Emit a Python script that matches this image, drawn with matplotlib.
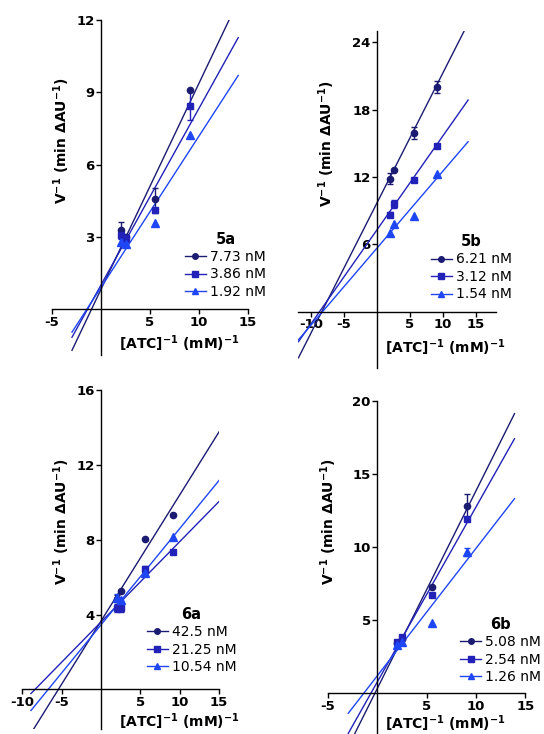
import numpy as np
import matplotlib
matplotlib.use("Agg")
import matplotlib.pyplot as plt
from matplotlib.lines import Line2D

plt.rcParams['font.family'] = ['DejaVu Sans']
plt.rcParams['axes.unicode_minus'] = False
plt.rcParams['mathtext.fontset'] = 'dejavusans'

# ---------------- data ----------------
x_atc = [2.0, 2.5, 5.56, 9.09]

# panel 5a
labels_5a = ['7.73 nM', '3.86 nM', '1.92 nM']
y_5a = [[3.28, 3.0, 4.59, 9.1], [3.1, 2.95, 4.1, 8.45], [2.8, 2.7, 3.6, 7.25]]
e_5a = [[0.33, 0.0, 0.45, 0.0], [0.2, 0.15, 0.1, 0.6], [0.0, 0.0, 0.0, 0.0]]
slope_5a = [0.855, 0.733, 0.628]
icpt_5a = [0.83, 1.01, 0.91]
fitx_5a = [-2.96, 14.0]

# panel 5b
labels_5b = ['6.21 nM', '3.12 nM', '1.54 nM']
y_5b = [[11.85, 12.6, 15.95, 20.05], [8.65, 9.6, 11.75, 14.8], [7.0, 7.8, 8.55, 12.25]]
e_5b = [[0.5, 0.0, 0.55, 0.55], [0.2, 0.35, 0.2, 0.15], [0.0, 0.0, 0.0, 0.0]]
slope_5b = [1.16, 0.838, 0.687]
icpt_5b = [9.7, 7.3, 5.67]
fitx_5b = [-11.9, 13.8]

# panel 6a
labels_6a = ['42.5 nM', '21.25 nM', '10.54 nM']
y_6a = [[4.85, 5.25, 8.05, 9.3], [4.35, 4.35, 6.45, 7.35], [4.9, 4.8, 6.2, 8.15]]
e_6a = [[0.2, 0.0, 0.0, 0.0], [0.2, 0.2, 0.15, 0.1], [0.2, 0.1, 0.0, 0.0]]
slope_6a = [0.675, 0.43, 0.515]
icpt_6a = [3.65, 3.6, 3.45]
fitx_6a = [-8.9, 15.0]

# panel 6b
labels_6b = ['5.08 nM', '2.54 nM', '1.26 nM']
y_6b = [[3.4, 3.7, 7.25, 12.85], [3.5, 3.84, 6.7, 11.95], [3.3, 3.5, 4.8, 9.67]]
e_6b = [[0.15, 0.0, 0.0, 0.8], [0.15, 0.1, 0.0, 0.15], [0.0, 0.0, 0.0, 0.25]]
slope_6b = [1.356, 1.2, 0.874]
icpt_6b = [0.31, 0.76, 1.18]
fitx_6b = [-2.94, 13.9]

colors = ['#1b1b72', '#2222b8', '#1f46f5']
markers = ['o', 's', '^']
msizes = [4.5, 5.0, 5.5]

W, H = 544, 734
fig = plt.figure(figsize=(W / 100, H / 100), dpi=100)


def make_axes(x0, sx, xlim, y0, sy, ylim):
    left = x0 + xlim[0] * sx
    right = x0 + xlim[1] * sx
    top = y0 - ylim[1] * sy
    bottom = y0 - ylim[0] * sy
    ax = fig.add_axes([left / W, 1 - bottom / H, (right - left) / W, (bottom - top) / H])
    ax.set_xlim(*xlim)
    ax.set_ylim(*ylim)
    return ax


def panel(ax, title, labels, ys, es, slopes, icpts, fitx, xticks, yticks,
          xspan, yspan, leg_xy, ylab_xy, xlab_xy):
    ax.patch.set_visible(False)
    for sp in ['top', 'right']:
        ax.spines[sp].set_visible(False)
    ax.spines['left'].set_position(('data', 0))
    ax.spines['bottom'].set_position(('data', 0))
    ax.spines['left'].set_bounds(*yspan)
    ax.spines['bottom'].set_bounds(*xspan)
    for sp in ['left', 'bottom']:
        ax.spines[sp].set_linewidth(1.0)
    ax.set_xticks(xticks)
    ax.set_yticks(yticks)
    ax.set_xticklabels([str(t) for t in xticks])
    ax.set_yticklabels([str(t) for t in yticks])
    ax.tick_params(direction='out', length=3.5, width=1.0, pad=1.2,
                   labelsize=9.5)
    for lab in ax.get_xticklabels() + ax.get_yticklabels():
        lab.set_fontweight('bold')

    fx = np.array(fitx)
    handles = []
    for i in range(3):
        c = colors[i]
        ax.plot(fx, icpts[i] + slopes[i] * fx, color=c, lw=1.0, zorder=2)
        xa = np.array(x_atc)
        ya = np.array(ys[i])
        ea = np.array(es[i])
        m = ea > 0
        if m.any():
            ax.errorbar(xa[m], ya[m], yerr=ea[m], fmt='none', ecolor=c,
                        elinewidth=1.0, capsize=2.5, capthick=1.0, zorder=3)
        ax.plot(xa, ya, linestyle='none', marker=markers[i], ms=msizes[i],
                color=c, zorder=4)
        handles.append(Line2D([], [], color=c, lw=1.0, marker=markers[i],
                              ms=msizes[i] - 0.5))
    ax.legend(handles=handles, labels=labels, title=title,
              title_fontproperties={'weight': 'bold', 'size': 10.5},
              fontsize=10, frameon=False, loc='upper left',
              bbox_to_anchor=(leg_xy[0] / W, 1 - leg_xy[1] / H),
              bbox_transform=fig.transFigure, borderpad=0,
              borderaxespad=0, handlelength=1.5, handletextpad=0.3,
              labelspacing=0.25)
    fig.text(ylab_xy[0] / W, 1 - ylab_xy[1] / H,
             r'V$^{\mathbf{-1}}$ (min ΔAU$^{\mathbf{-1}}$)', rotation=90,
             ha='center', va='center', fontsize=10, fontweight='bold')
    fig.text(xlab_xy[0] / W, 1 - xlab_xy[1] / H,
             r'[ATC]$^{\mathbf{-1}}$ (mM)$^{\mathbf{-1}}$',
             ha='center', va='center', fontsize=10, fontweight='bold')


ax1 = make_axes(101, 9.8, (-5, 15), 309.3, 24.1, (-1.9, 12))
panel(ax1, '5a', labels_5a, y_5a, e_5a, slope_5a, icpt_5a, fitx_5a,
      [-5, 5, 10, 15], [3, 6, 9, 12], (-5, 15), (-1.9, 12),
      (185, 231.5), (62, 141), (179.5, 344))

ax2 = make_axes(377, 6.6, (-12, 18), 311.7, 11.22, (-5, 25))
panel(ax2, '5b', labels_5b, y_5b, e_5b, slope_5b, icpt_5b, fitx_5b,
      [-10, -5, 5, 10, 15], [6, 12, 18, 24], (-12, 18), (-5, 25),
      (431, 234), (327, 144), (445.5, 347.5))

ax3 = make_axes(101, 7.87, (-10, 15), 689.3, 18.69, (-2.1, 16))
panel(ax3, '6a', labels_6a, y_6a, e_6a, slope_6a, icpt_6a, fitx_6a,
      [-10, -5, 5, 10, 15], [4, 8, 12, 16], (-10, 15), (-2.1, 16),
      (146.7, 606.8), (62, 522), (179, 721.5))

ax4 = make_axes(377.3, 9.87, (-5, 15), 693, 14.58, (-2.8, 20))
panel(ax4, '6b', labels_6b, y_6b, e_6b, slope_6b, icpt_6b, fitx_6b,
      [-5, 5, 10, 15], [5, 10, 15, 20], (-5, 15), (-2.8, 20),
      (460.3, 616.8), (328.7, 522), (445.3, 724))

fig.savefig('out.png', dpi=100)
